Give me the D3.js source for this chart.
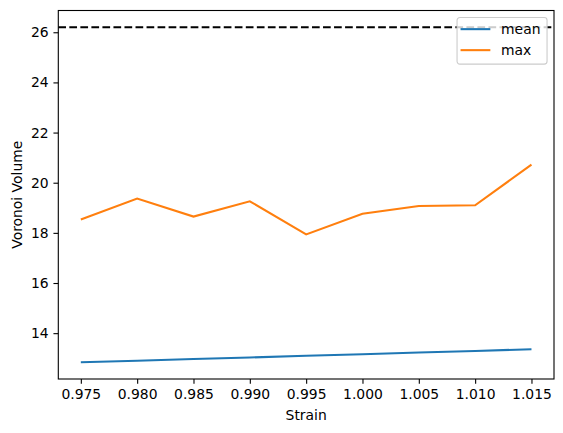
<!DOCTYPE html>
<html>
<head>
<meta charset="utf-8">
<script src="https://cdn.jsdelivr.net/npm/d3@7"></script>
<style>
  body { margin: 0; background: #fff; }
  svg { display: block; font-family: "DejaVu Sans", sans-serif; }
</style>
</head>
<body>
<svg id="chart" width="563" height="433"></svg>
<script>
// values
var strain = [0.975, 0.980, 0.985, 0.990, 0.995, 1.000, 1.005, 1.010, 1.015];
var meanVol = [12.84, 12.90, 12.97, 13.03, 13.10, 13.16, 13.23, 13.29, 13.36];
var maxVol = [18.53, 19.37, 18.65, 19.26, 17.94, 18.76, 19.07, 19.10, 20.72];
var refLine = 26.2;
var xTicks = [0.975, 0.980, 0.985, 0.990, 0.995, 1.000, 1.005, 1.010, 1.015];
var yTicks = [14, 16, 18, 20, 22, 24, 26];
var seriesNames = ["mean", "max"];
var seriesColors = ["#1f77b4", "#ff7f0e"];

var svg = d3.select("#chart");
var fontPx = 13.9;
var margin = {left: 58.3, right: 9, top: 10.5, bottom: 54};
var width = +svg.attr("width") - margin.left - margin.right;
var height = +svg.attr("height") - margin.top - margin.bottom;

// matplotlib style 5% margins
var xPad = (d3.max(strain) - d3.min(strain)) * 0.05;
var yLo = d3.min(meanVol), yHi = Math.max(d3.max(maxVol), refLine);
var yPad = (yHi - yLo) * 0.05;

var x = d3.scaleLinear()
    .domain([d3.min(strain) - xPad, d3.max(strain) + xPad])
    .range([0, width]);
var y = d3.scaleLinear()
    .domain([yLo - yPad, yHi + yPad])
    .range([height, 0]);

var g = svg.append("g")
    .attr("transform", "translate(" + margin.left + "," + margin.top + ")");

var tickLen = 4.86;

var xAxis = g.append("g")
    .attr("transform", "translate(0," + height + ")")
    .call(d3.axisBottom(x).tickValues(xTicks).tickFormat(d3.format(".3f"))
      .tickSize(tickLen).tickPadding(4.86));
var yAxis = g.append("g")
    .call(d3.axisLeft(y).tickValues(yTicks).tickFormat(d3.format("d"))
      .tickSize(tickLen).tickPadding(4.86));

[xAxis, yAxis].forEach(function(a) {
  a.select(".domain").remove();
  a.selectAll("line").attr("stroke", "#000").attr("stroke-width", 1.1);
  a.selectAll("text").attr("fill", "#000")
    .style("font-size", fontPx + "px")
    .style("font-family", "DejaVu Sans, sans-serif");
});

// lines
var lineGen = d3.line()
    .x(function(d) { return x(d[0]); })
    .y(function(d) { return y(d[1]); });

[meanVol, maxVol].forEach(function(vals, i) {
  g.append("path")
      .datum(d3.zip(strain, vals))
      .attr("fill", "none")
      .attr("stroke", seriesColors[i])
      .attr("stroke-width", 2.08)
      .attr("d", lineGen);
});

// dashed reference line across the axes
g.append("line")
    .attr("x1", 0).attr("x2", width)
    .attr("y1", y(refLine)).attr("y2", y(refLine))
    .attr("stroke", "#000")
    .attr("stroke-width", 2.08)
    .attr("stroke-dasharray", "7.7,3.33");

// frame
g.append("rect")
    .attr("width", width).attr("height", height)
    .attr("fill", "none")
    .attr("stroke", "#000")
    .attr("stroke-width", 1.1);

// axis labels
g.append("text")
    .attr("x", width / 2)
    .attr("y", height + 41)
    .attr("text-anchor", "middle")
    .style("font-size", fontPx + "px")
    .text("Strain");

g.append("text")
    .attr("transform", "translate(" + (16.7 - margin.left + 5) + "," + (height / 2) + ") rotate(-90)")
    .attr("text-anchor", "middle")
    .style("font-size", fontPx + "px")
    .text("Voronoi Volume");

// legend
var legW = 90, legH = 46.7;
var leg = g.append("g")
    .attr("transform", "translate(" + (width - 6.95 - legW) + "," + 6.95 + ")");

leg.append("rect")
    .attr("width", legW).attr("height", legH)
    .attr("rx", 2.8)
    .attr("fill", "#fff").attr("fill-opacity", 0.8)
    .attr("stroke", "#ccc").attr("stroke-width", 1.1);

seriesNames.forEach(function(name, i) {
  var ly = 11.7 + i * 21;
  leg.append("line")
      .attr("x1", 3.5).attr("x2", 33.3)
      .attr("y1", ly).attr("y2", ly)
      .attr("stroke", seriesColors[i])
      .attr("stroke-width", 2.08);
  leg.append("text")
      .attr("x", 44)
      .attr("y", ly)
      .attr("dy", "0.35em")
      .style("font-size", fontPx + "px")
      .text(name);
});
</script>
</body>
</html>
